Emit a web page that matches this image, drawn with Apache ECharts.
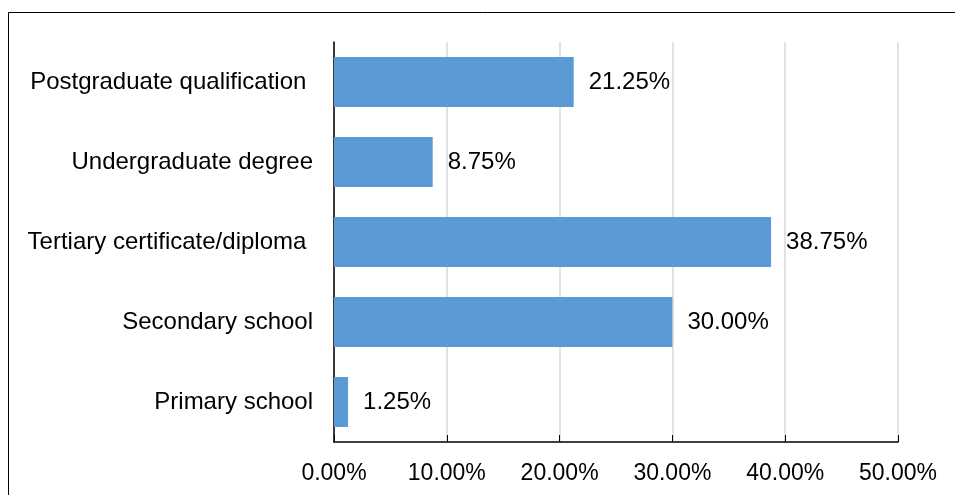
<!DOCTYPE html>
<html>
<head>
<meta charset="utf-8">
<script src="https://cdn.jsdelivr.net/npm/echarts@6/dist/echarts.min.js"></script>
<style>
  html, body { margin: 0; padding: 0; background: #fff; }
  #chart { width: 955px; height: 495px; }
</style>
</head>
<body>
<div id="chart"></div>
<script>
// Highest education level, share of respondents (top to bottom)
const categories = [
  'Postgraduate qualification ',
  'Undergraduate degree',
  'Tertiary certificate/diploma ',
  'Secondary school',
  'Primary school'
];
const shares = [21.25, 8.75, 38.75, 30.00, 1.25];
const axisTicks = [0, 10, 20, 30, 40, 50];

const FONT = '"Liberation Sans", Arial, sans-serif';
const pct = v => Number(v).toFixed(2) + '%';

const chart = echarts.init(document.getElementById('chart'));
chart.setOption({
  backgroundColor: '#ffffff',
  animation: false,
  graphic: [{
    type: 'rect',
    shape: { x: 8.5, y: 12.5, width: 1200, height: 1200 },
    style: { fill: 'none', stroke: '#000', lineWidth: 1 },
    silent: true
  }],
  grid: { left: 334, top: 42, right: 57, bottom: 53, containLabel: false },
  xAxis: {
    type: 'value',
    min: axisTicks[0],
    max: axisTicks[axisTicks.length - 1],
    interval: axisTicks[1] - axisTicks[0],
    axisLine: { show: true, lineStyle: { color: '#000', width: 1.5 } },
    axisTick: { show: true, inside: true, length: 7, lineStyle: { color: '#000', width: 1 } },
    axisLabel: { formatter: pct, color: '#000', fontSize: 23, fontFamily: FONT, margin: 20 },
    splitLine: { show: true, lineStyle: { color: '#d9d9d9', width: 1.5 } }
  },
  yAxis: {
    type: 'category',
    inverse: true,
    data: categories,
    axisLine: { show: true, lineStyle: { color: '#000', width: 1.5 } },
    axisTick: { show: false },
    axisLabel: { color: '#000', fontSize: 24, fontFamily: FONT, margin: 21 }
  },
  series: [{
    type: 'bar',
    data: shares,
    barCategoryGap: '37.5%',
    itemStyle: { color: '#5b9bd5' },
    label: {
      show: true,
      position: 'right',
      distance: 15,
      formatter: p => pct(p.value),
      color: '#000',
      fontSize: 24,
      fontFamily: FONT
    }
  }]
});
</script>
</body>
</html>
